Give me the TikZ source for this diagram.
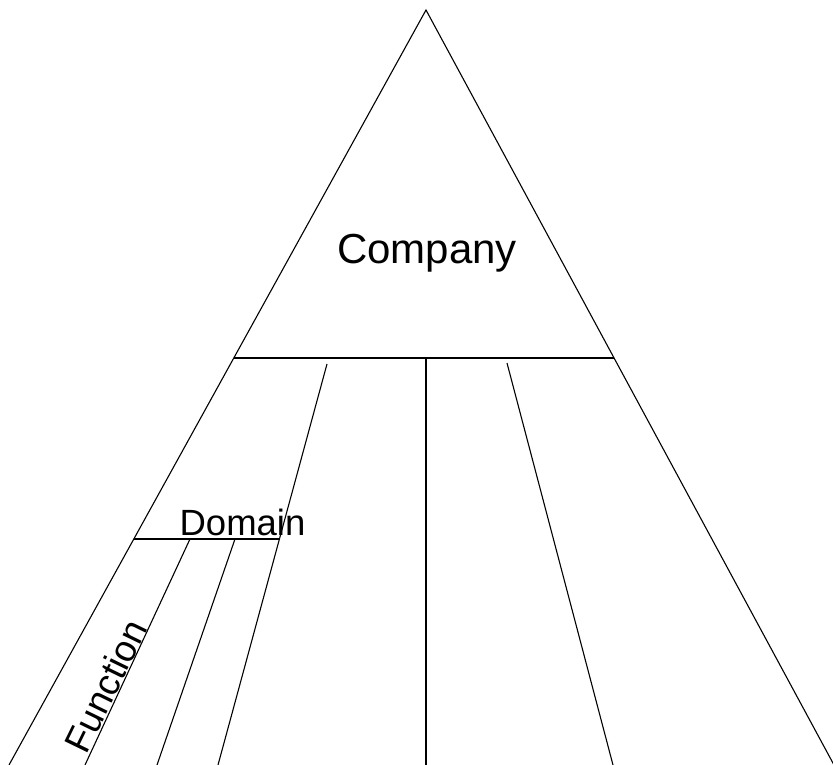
\documentclass[tikz,border=0pt]{standalone}
\usepackage{fontspec}
\setmainfont{Liberation Sans}
\begin{document}
\begin{tikzpicture}[x=1pt,y=-1pt,
  edge/.style={draw=black,line width=1.1pt},
  lbl/.style={inner sep=0pt,text=black}]
\useasboundingbox (0,0) rectangle (833,765);
% key points
\coordinate (apex) at (426,10);
\coordinate (bl) at (9,765);
\coordinate (br) at (834,765);
\coordinate (hl) at (233.8,358);
\coordinate (hr) at (613.6,358);
\coordinate (ct) at (426,358);
\coordinate (cb) at (426,765);
\coordinate (lt) at (327,364);
\coordinate (lb) at (218,765);
\coordinate (rt) at (507,363);
\coordinate (rb) at (613,765);
\coordinate (dl) at (133.8,539);
\coordinate (dr) at (279.4,539);
\coordinate (f1t) at (190,539);
\coordinate (f1b) at (85,765);
\coordinate (f2t) at (235,539);
\coordinate (f2b) at (157,765);
% outline
\draw[edge] (bl) -- (apex) -- (br);
\draw[edge] (hl) -- (hr);
\draw[edge] (ct) -- (cb);
\draw[edge] (lt) -- (lb);
\draw[edge] (rt) -- (rb);
\draw[edge] (dl) -- (dr);
\draw[edge] (f1t) -- (f1b);
\draw[edge] (f2t) -- (f2b);
% labels
\node[lbl,anchor=base,font=\fontsize{42}{48}\selectfont] (company) at (427,263) {Company};
\node[lbl,anchor=base,font=\fontsize{36.5}{42}\selectfont] (domain) at (242.5,535) {Domain};
\node[lbl,anchor=base,rotate=64,font=\fontsize{37}{42}\selectfont] (function) at (117.5,692) {Function};
\end{tikzpicture}
\end{document}
